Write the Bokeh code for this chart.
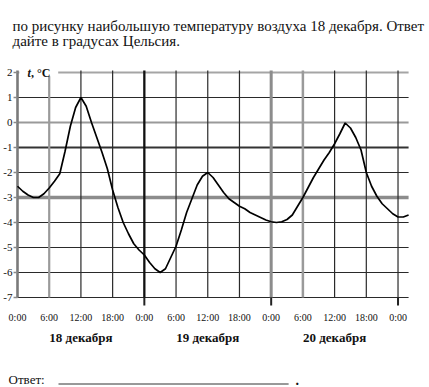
from bokeh.plotting import figure
from bokeh.models import Label, LabelSet, ColumnDataSource, BoxAnnotation
from bokeh.embed import file_html
from bokeh.resources import INLINE

# ---- data (hours since 18 Dec 0:00, air temperature in °C) ----
hours = [0, 1, 2, 3, 4, 5, 6, 7, 8, 9, 10, 11, 12, 13, 14, 15, 16, 17, 18, 19,
         20, 21, 22, 23, 24, 25, 26, 27, 28, 29, 30, 31, 32, 33, 34, 35, 36, 37, 38, 39,
         40, 41, 42, 43, 44, 45, 46, 47, 48, 49, 50, 51, 52, 53, 54, 55, 56, 57, 58, 59,
         60, 61, 62, 63, 64, 65, 66, 67, 68, 69, 70, 71, 72, 73, 74]
temps = [-2.55, -2.75, -2.9, -3.0, -3.0, -2.85, -2.62, -2.35, -2.05, -1.15,
         -0.15, 0.6, 1.0, 0.65, 0.0, -0.6, -1.2, -1.85, -2.7, -3.4,
         -4.0, -4.45, -4.85, -5.1, -5.3, -5.6, -5.85, -6.0, -5.85, -5.4,
         -4.95, -4.3, -3.6, -3.05, -2.5, -2.15, -2.0, -2.2, -2.5, -2.8,
         -3.05, -3.2, -3.35, -3.45, -3.6, -3.7, -3.8, -3.9, -3.97, -4.0,
         -3.97, -3.88, -3.7, -3.35, -3.0, -2.6, -2.2, -1.85, -1.5, -1.2,
         -0.85, -0.45, -0.02, -0.22, -0.6, -1.1, -2.0, -2.55, -2.95, -3.25,
         -3.45, -3.65, -3.78, -3.78, -3.7]

x_ticks = [0, 6, 12, 18, 24, 30, 36, 42, 48, 54, 60, 66, 72]
x_tick_labels = ["0:00", "6:00", "12:00", "18:00", "0:00", "6:00", "12:00", "18:00",
                 "0:00", "6:00", "12:00", "18:00", "0:00"]
day_marks = [24, 48, 72]
day_centres = [12, 36, 60]
day_labels = ["18 декабря", "19 декабря", "20 декабря"]
y_ticks = [2, 1, 0, -1, -2, -3, -4, -5, -6, -7]
y_tick_labels = ["2", "1", "0", "-1", "-2", "-3", "-4", "-5", "-6", "-7"]

question_lines = ["по рисунку наибольшую температуру воздуха 18 декабря. Ответ",
                  "дайте в градусах Цельсия."]

SERIF = "serif"
INK = "#111111"

# whole canvas is the plotting frame; ranges chosen so that the grid sits where it should
p = figure(width=429, height=387, x_range=(-3.2167, 77.957), y_range=(-10.6, 4.88),
           output_backend="svg", toolbar_location=None,
           min_border=0, min_border_left=0, min_border_right=0,
           min_border_top=0, min_border_bottom=0)
p.outline_line_color = None
p.background_fill_color = "white"
p.border_fill_color = "white"
p.axis.visible = False
p.grid.visible = False

x_end = 74.0        # right end of horizontal grid lines (hours)
y_top = 2.08        # top end of vertical grid lines
y_bot = min(y_ticks)
tick_below = -7.32  # extension of day-boundary marks below the grid

# emphasised (scanned) grid lines: colour, width
h_emph = {-3: ("#8c8c8c", 3.5), 0: ("#9a9a9a", 2.2), 2: ("#a5a5a5", 2), -1: ("#333333", 2)}
v_emph = {0: ("#7a7a7a", 2.6), 24: ("#111111", 2.3), 48: ("#8c8c8c", 3), 6: ("#9a9a9a", 2.2),
          54: ("#9a9a9a", 2.5)}
base = ("#2a2a2a", 1.2)

hsrc = ColumnDataSource(dict(
    y=y_ticks,
    x0=[0] * len(y_ticks), x1=[x_end] * len(y_ticks),
    c=[h_emph.get(t, base)[0] for t in y_ticks],
    w=[h_emph.get(t, base)[1] for t in y_ticks]))
p.segment(x0="x0", y0="y", x1="x1", y1="y", line_color="c", line_width="w", source=hsrc)

vsrc = ColumnDataSource(dict(
    x=x_ticks,
    y0=[y_bot] * len(x_ticks), y1=[y_top] * len(x_ticks),
    c=[v_emph.get(t, base)[0] for t in x_ticks],
    w=[v_emph.get(t, base)[1] for t in x_ticks]))
p.segment(x0="x", y0="y0", x1="x", y1="y1", line_color="c", line_width="w", source=vsrc)

# day boundary marks below the grid
dsrc = ColumnDataSource(dict(x=day_marks, y0=[tick_below] * len(day_marks), y1=[y_bot] * len(day_marks)))
p.segment(x0="x", y0="y0", x1="x", y1="y1", line_color="#222222", line_width=2, source=dsrc)

# small outward y ticks
ytsrc = ColumnDataSource(dict(y=y_ticks, x0=[-0.75] * len(y_ticks), x1=[0] * len(y_ticks)))
p.segment(x0="x0", y0="y", x1="x1", y1="y", line_color="#8a8a8a", line_width=1.5, source=ytsrc)

# white patch behind the axis title
p.add_layout(BoxAnnotation(left=0.35, right=7.7, bottom=1.85, top=2.2,
                           fill_color="white", fill_alpha=1, line_color=None))

# curve
p.line(hours, temps, line_color="black", line_width=1.7)

# y tick labels
ysrc = ColumnDataSource(dict(y=y_ticks, text=y_tick_labels))
p.add_layout(LabelSet(x=-0.95, y="y", text="text", source=ysrc, text_align="right",
                      text_baseline="middle", text_font=SERIF, text_font_size="11px",
                      text_color=INK))

# x tick labels
xsrc = ColumnDataSource(dict(x=x_ticks, y=[-7.8] * len(x_ticks), text=x_tick_labels))
p.add_layout(LabelSet(x="x", y="y", text="text", source=xsrc, text_align="center",
                      text_baseline="middle", text_font=SERIF, text_font_size="10px",
                      text_color=INK))

# axis title
p.add_layout(Label(x=1.89, y=2.0, text="t", text_font=SERIF, text_font_style="bold italic",
                   text_font_size="12px", text_baseline="middle", text_color=INK))
p.add_layout(Label(x=2.55, y=2.0, text=", °C", text_font=SERIF, text_font_style="bold",
                   text_font_size="12px", text_baseline="middle", text_color=INK))

# day labels
for xc, lab in zip(day_centres, day_labels):
    p.add_layout(Label(x=xc, y=-8.6, text=lab, text_font=SERIF, text_font_style="bold",
                       text_font_size="13px", text_align="center", text_baseline="middle",
                       text_color=INK))

# question text
p.add_layout(Label(x=-0.946, y=3.88, text=question_lines[0], text_font=SERIF,
                   text_font_size="15px", text_baseline="middle", text_color=INK))
p.add_layout(Label(x=-0.946, y=3.28, text=question_lines[1], text_font=SERIF,
                   text_font_size="15px", text_baseline="middle", text_color=INK))

# answer line
ans_y = -10.28
p.add_layout(Label(x=-1.7, y=ans_y, text="Ответ:", text_font=SERIF,
                   text_font_size="13px", text_baseline="middle", text_color=INK))
usrc = ColumnDataSource(dict(x0=[7.76], x1=[51.3], y=[ans_y - 0.18]))
p.segment(x0="x0", y0="y", x1="x1", y1="y", line_color="#333333", line_width=1, source=usrc)
p.add_layout(Label(x=52.6, y=ans_y, text=".", text_font=SERIF, text_font_style="bold",
                   text_font_size="14px", text_baseline="middle", text_color=INK))

open("out.html", "w").write(file_html(p, INLINE))
